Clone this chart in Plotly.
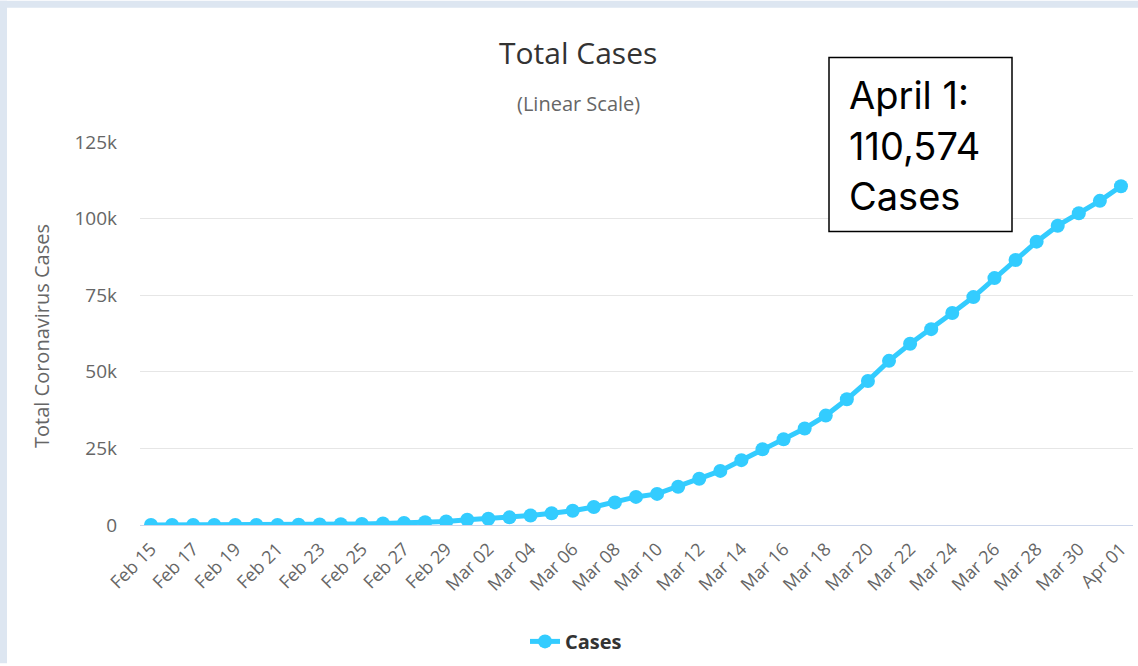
import plotly.graph_objects as go

dates = ["Feb 15","Feb 16","Feb 17","Feb 18","Feb 19","Feb 20","Feb 21","Feb 22","Feb 23","Feb 24",
         "Feb 25","Feb 26","Feb 27","Feb 28","Feb 29","Mar 01","Mar 02","Mar 03","Mar 04","Mar 05",
         "Mar 06","Mar 07","Mar 08","Mar 09","Mar 10","Mar 11","Mar 12","Mar 13","Mar 14","Mar 15",
         "Mar 16","Mar 17","Mar 18","Mar 19","Mar 20","Mar 21","Mar 22","Mar 23","Mar 24","Mar 25",
         "Mar 26","Mar 27","Mar 28","Mar 29","Mar 30","Mar 31","Apr 01"]
cases = [3, 3, 3, 3, 3, 3, 20, 79, 157, 229,
         323, 470, 655, 889, 1128, 1694, 2036, 2502, 3089, 3858,
         4636, 5883, 7375, 9172, 10149, 12462, 15113, 17660, 21157, 24747,
         27980, 31506, 35713, 41035, 47021, 53578, 59138, 63927, 69176, 74386,
         80589, 86498, 92472, 97689, 101739, 105792, 110574]
tick_labels = dates[::2]
y_ticks = [0, 25000, 50000, 75000, 100000, 125000]
y_tick_text = ["0", "25k", "50k", "75k", "100k", "125k"]
note_lines = ["April 1:", "110,574", "Cases"]

W, H = 1138, 666
L, R, T, B = 140, 5, 142, 139
PW, PH = W - L - R, H - T - B

def px(x):
    return (x - L) / PW

def py(y):
    return (H - B - y) / PH

fig = go.Figure()
fig.add_trace(go.Scatter(
    x=dates, y=cases, mode="lines+markers", name="Cases",
    line=dict(color="#33ccff", width=5),
    marker=dict(color="#33ccff", size=14),
))

font_main = "Open Sans, DejaVu Sans, sans-serif"

fig.update_layout(
    width=W, height=H,
    margin=dict(l=L, r=R, t=T, b=B),
    paper_bgcolor="white", plot_bgcolor="white",
    showlegend=True,
    legend=dict(orientation="h", x=px(576), y=py(644), xanchor="center", yanchor="middle",
                font=dict(family=font_main, size=20, color="#333333", weight="bold"),
                itemwidth=30),
    font=dict(family=font_main),
    xaxis=dict(
        type="category", range=[-0.52, len(dates) - 1 + 0.57],
        tickmode="array", tickvals=tick_labels, ticktext=tick_labels,
        tickangle=-45, tickfont=dict(family=font_main, size=18, color="#666666"),
        showgrid=False, showline=False, zeroline=False, ticks="", ticklabelstandoff=9,
    ),
    yaxis=dict(
        range=[0, 125000], tickmode="array", tickvals=y_ticks, ticktext=y_tick_text,
        tickfont=dict(family=font_main, size=19, color="#666666"),
        gridcolor="#e6e6e6", gridwidth=1, zeroline=True, zerolinecolor="#ccd6eb",
        zerolinewidth=1, showline=False, ticks="", ticklabelstandoff=22,
    ),
)

shapes = [
    dict(type="rect", xref="paper", yref="paper", x0=px(0), x1=px(7), y0=py(H), y1=py(0),
         fillcolor="#dde6f1", line=dict(width=0), layer="above"),
    dict(type="rect", xref="paper", yref="paper", x0=px(0), x1=px(W), y0=py(7), y1=py(0),
         fillcolor="#dde6f1", line=dict(width=0), layer="above"),
    dict(type="rect", xref="paper", yref="paper", x0=px(829), x1=px(1012), y0=py(232), y1=py(57),
         fillcolor="white", line=dict(color="black", width=1.5), layer="above"),
]
fig.update_layout(shapes=shapes)

annotations = [
    dict(text="Total Cases", x=px(578), y=py(52), xref="paper", yref="paper",
         showarrow=False, xanchor="center", yanchor="middle",
         font=dict(family=font_main, size=30, color="#333333")),
    dict(text="(Linear Scale)", x=px(578), y=py(103), xref="paper", yref="paper",
         showarrow=False, xanchor="center", yanchor="middle",
         font=dict(family=font_main, size=20, color="#666666")),
    dict(text="Total Coronavirus Cases", x=px(42), y=py(337), xref="paper", yref="paper",
         showarrow=False, xanchor="center", yanchor="middle", textangle=-90,
         font=dict(family=font_main, size=20, color="#666666")),
]
for line, yc in zip(note_lines, [95, 146, 196]):
    annotations.append(dict(text=line, x=px(847), y=py(yc), xref="paper", yref="paper",
                            showarrow=False, xanchor="left", yanchor="middle",
                            font=dict(family="Inter, Lato, sans-serif", size=38, color="black")))
fig.update_layout(annotations=annotations)

fig.write_html("out.html", config={"displayModeBar": False},
               post_script="document.body.style.margin='0';document.body.style.padding='0';")
